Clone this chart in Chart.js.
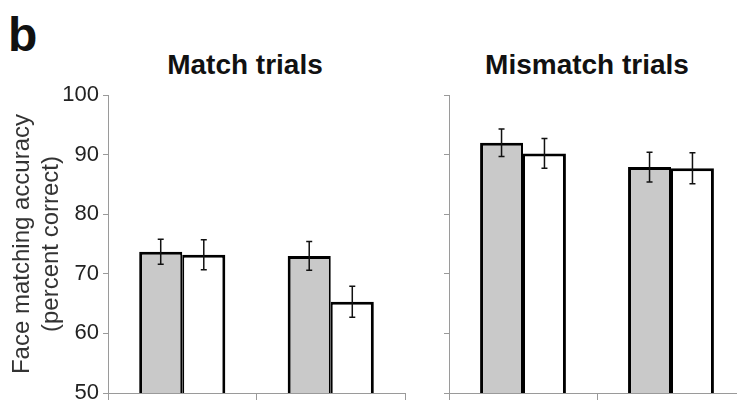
<!DOCTYPE html>
<html>
<head>
<meta charset="utf-8">
<script src="https://cdn.jsdelivr.net/npm/chart.js@4.4.1/dist/chart.umd.min.js"></script>
<style>
  html, body { margin: 0; padding: 0; background: #fff; }
  body { width: 737px; height: 400px; overflow: hidden; position: relative; font-family: "Liberation Sans", Arial, sans-serif; }
  canvas { position: absolute; top: 0; }
  #left { left: 0; }
  #right { left: 420px; }
  .lbl { position: absolute; font-weight: bold; color: #111; line-height: 1; white-space: nowrap; }
  #panel { left: 8px; top: 11px; font-size: 48px; }
  .ttl { font-size: 28px; top: 51px; width: 300px; text-align: center; }
  #t1 { left: 95px; }
  #t2 { left: 437px; }
</style>
</head>
<body>
<div class="lbl" id="panel">b</div>
<div class="lbl ttl" id="t1">Match trials</div>
<div class="lbl ttl" id="t2">Mismatch trials</div>
<canvas id="left" width="420" height="400"></canvas>
<canvas id="right" width="330" height="400"></canvas>
<script>
// two conditions per panel, x labels are not visible in the picture
const groups = ['Group 1', 'Group 2'];
const yTicks = [50, 60, 70, 80, 90, 100];

const matchGray = [73.7, 73.0];
const matchWhite = [73.2, 65.3];
const matchGrayErr = [2.1, 2.4];
const matchWhiteErr = [2.5, 2.6];

const mismatchGray = [92.0, 87.9];
const mismatchWhite = [90.2, 87.7];
const mismatchGrayErr = [2.3, 2.5];
const mismatchWhiteErr = [2.5, 2.6];

const axisGray = '#9a9a9a';
const fontFam = '"Liberation Sans", Arial, sans-serif';

// draws the vertical error bars on top of each bar
const errorBars = {
    id: 'errorBars',
    afterDatasetsDraw(chart) {
        const ctx = chart.ctx;
        const y = chart.scales.y;
        ctx.save();
        ctx.strokeStyle = '#111';
        ctx.lineWidth = 1.5;
        chart.data.datasets.forEach((ds, di) => {
            const meta = chart.getDatasetMeta(di);
            meta.data.forEach((bar, i) => {
                const v = ds.data[i], e = ds.errors[i];
                const yTop = y.getPixelForValue(v + e);
                const yBot = y.getPixelForValue(v - e);
                ctx.beginPath();
                ctx.moveTo(bar.x, yTop); ctx.lineTo(bar.x, yBot);
                ctx.moveTo(bar.x - 3, yTop); ctx.lineTo(bar.x + 3, yTop);
                ctx.moveTo(bar.x - 3, yBot); ctx.lineTo(bar.x + 3, yBot);
                ctx.stroke();
            });
        });
        ctx.restore();
    }
};

function makeChart(id, grayVals, whiteVals, grayErr, whiteErr, showLabels, yWidth, padRight) {
    const ctx = document.getElementById(id).getContext('2d');
    return new Chart(ctx, {
        type: 'bar',
        data: {
            labels: groups,
            datasets: [{
                data: grayVals,
                errors: grayErr,
                backgroundColor: '#c9c9c9',
                borderColor: '#000',
                borderWidth: { top: 3, left: 3, right: 2, bottom: 0 },
                borderSkipped: 'start'
            }, {
                data: whiteVals,
                errors: whiteErr,
                backgroundColor: '#fff',
                borderColor: '#000',
                borderWidth: { top: 3, left: 2, right: 3, bottom: 0 },
                borderSkipped: 'start'
            }]
        },
        options: {
            responsive: false,
            animation: false,
            categoryPercentage: 0.58,
            barPercentage: 1.0,
            layout: { padding: { top: 95, right: padRight, bottom: 0, left: 0 } },
            plugins: {
                legend: { display: false },
                tooltip: { enabled: false }
            },
            scales: {
                x: {
                    ticks: { display: false },
                    grid: { offset: true, drawOnChartArea: false, drawTicks: true, tickLength: 7, color: axisGray },
                    border: { display: true, color: axisGray },
                    afterFit: (scale) => { scale.height = 7; scale.paddingLeft = 0; scale.paddingRight = 0; }
                },
                y: {
                    min: 50,
                    max: 100,
                    afterBuildTicks: (scale) => { scale.ticks = yTicks.map(v => ({ value: v })); },
                    ticks: {
                        display: showLabels,
                        padding: 4,
                        color: '#222',
                        font: { family: fontFam, size: 22 }
                    },
                    grid: { drawOnChartArea: false, drawTicks: true, tickLength: 5, color: axisGray },
                    border: { display: true, color: axisGray },
                    title: {
                        display: showLabels,
                        text: ['Face matching accuracy', '(percent correct)'],
                        color: '#333',
                        font: { family: fontFam, size: 24, lineHeight: 1.2 },
                        padding: { top: 8, bottom: 0 }
                    },
                    // fixed axis width so both panels line up with the picture
                    afterFit: (scale) => { scale.width = yWidth; scale.paddingTop = 0; scale.paddingBottom = 0; }
                }
            }
        },
        plugins: [errorBars]
    });
}

makeChart('left', matchGray, matchWhite, matchGrayErr, matchWhiteErr, true, 108, 15);
makeChart('right', mismatchGray, mismatchWhite, mismatchGrayErr, mismatchWhiteErr, false, 29, 5);
</script>
</body>
</html>
